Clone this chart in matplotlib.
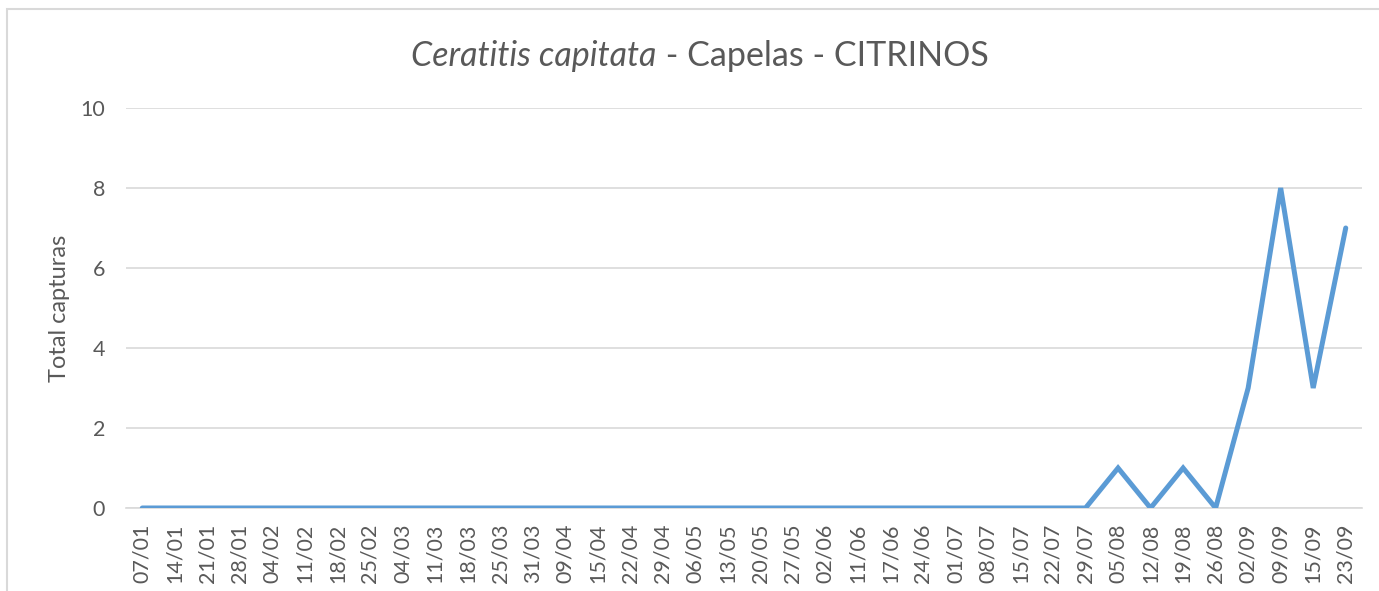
import matplotlib
matplotlib.use("Agg")
import matplotlib.pyplot as plt
from matplotlib.patches import Rectangle

dates = ["07/01", "14/01", "21/01", "28/01", "04/02", "11/02", "18/02", "25/02",
         "04/03", "11/03", "18/03", "25/03", "31/03", "09/04", "15/04", "22/04",
         "29/04", "06/05", "13/05", "20/05", "27/05", "02/06", "11/06", "17/06",
         "24/06", "01/07", "08/07", "15/07", "22/07", "29/07", "05/08", "12/08",
         "19/08", "26/08", "02/09", "09/09", "15/09", "23/09"]
captures = [0] * 30 + [1, 0, 1, 0, 3, 8, 3, 7]
yticks = [0, 2, 4, 6, 8, 10]

plt.rcParams['font.family'] = ['Lato', 'DejaVu Sans']
txt = '#595959'

fig = plt.figure(figsize=(13.79, 5.91), dpi=100)
ax = fig.add_axes([126/1379, 83/591, (1362-126)/1379, 400/591])

x = list(range(len(dates)))
ax.plot(x, captures, color='#5B9BD5', lw=3.6, solid_joinstyle='miter', solid_capstyle='round', zorder=3)
ax.set_xlim(-0.5, len(dates) - 0.5)
ax.set_ylim(0, 10)
ax.set_yticks(yticks)
ax.set_yticklabels([str(v) for v in yticks], fontsize=15.5, color=txt)
ax.set_xticks(x)
ax.set_xticklabels(dates, rotation=90, fontsize=15.5, color=txt)
ax.tick_params(axis='both', length=0)
ax.tick_params(axis='y', pad=15)
ax.tick_params(axis='x', pad=11)
ax.grid(axis='y', color='#D9D9D9', lw=1.2)
ax.set_axisbelow(True)
for s in ['top', 'right', 'left']:
    ax.spines[s].set_visible(False)
ax.spines['bottom'].set_color('#D9D9D9')
ax.spines['bottom'].set_linewidth(1.2)
fig.text(59/1379, 1 - 308/591, 'Total capturas', fontsize=17, color=txt,
         rotation=90, ha='center', va='center')

# figure border (partially cropped)
fig.patches.append(Rectangle((7/1379, -0.1), 1.2, (591-8.5)/591 + 0.1,
                             transform=fig.transFigure, fill=False,
                             edgecolor='#D9D9D9', lw=1.5))

# title with mixed styles, centred
fig.canvas.draw()
r = fig.canvas.get_renderer()
ty = 1 - 56/591
t1 = fig.text(0, ty, 'Ceratitis capitata', fontsize=24.5, style='italic', color=txt, va='center')
t2 = fig.text(0, ty, ' - Capelas - CITRINOS', fontsize=24.5, color=txt, va='center')
w1 = t1.get_window_extent(r).width
w2 = t2.get_window_extent(r).width
cx = 700
x0 = cx - (w1 + w2) / 2
t1.set_x(x0 / 1379)
t2.set_x((x0 + w1) / 1379)

fig.savefig('out.png', dpi=100)
